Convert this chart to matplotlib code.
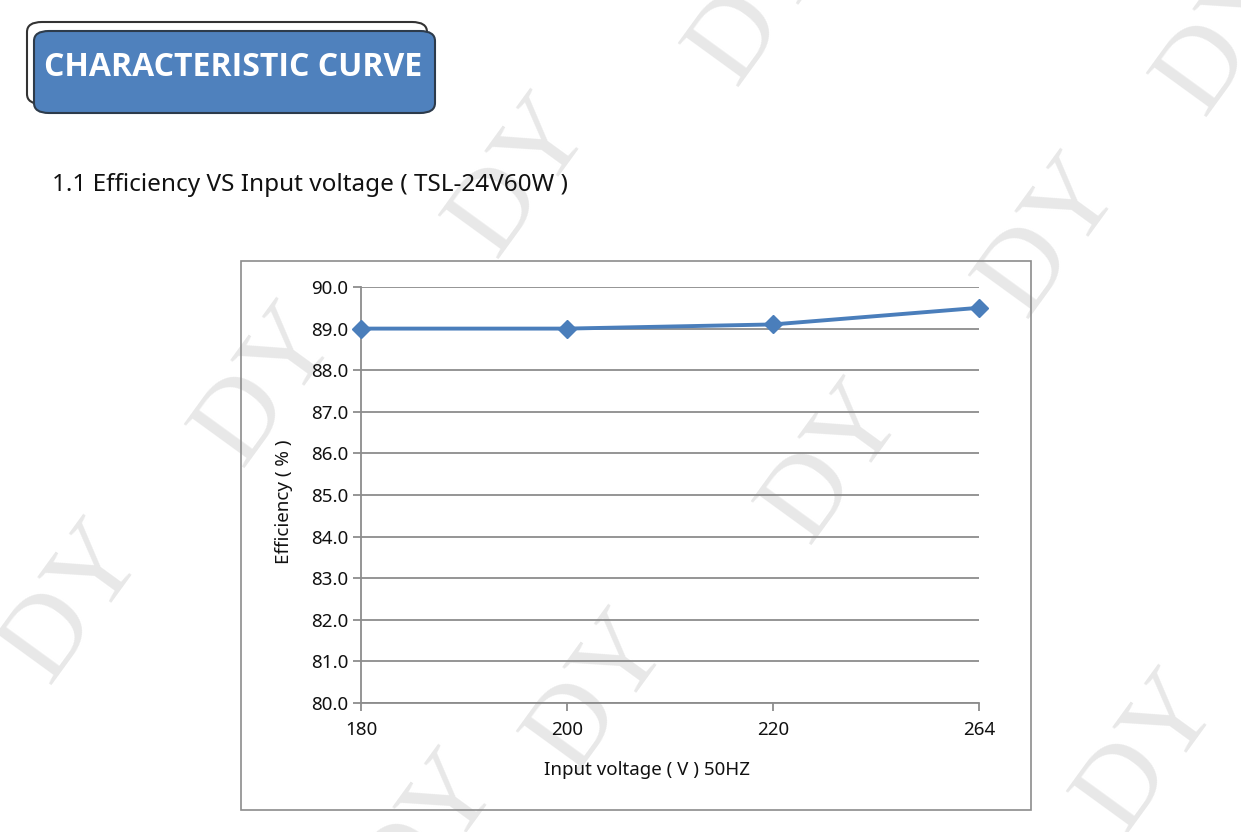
import matplotlib
matplotlib.use("Agg")
import matplotlib.pyplot as plt
from matplotlib.patches import FancyBboxPatch, Rectangle

# data
voltages = ["180", "200", "220", "264"]
efficiency = [89.0, 89.0, 89.1, 89.5]
y_ticks = [80.0, 81.0, 82.0, 83.0, 84.0, 85.0, 86.0, 87.0, 88.0, 89.0, 90.0]

W, H = 1241, 832
BLUE = "#4a7ebb"
GRID = "#8c8c8c"

plt.rcParams["font.family"] = ["Noto Sans", "DejaVu Sans"]

fig = plt.figure(figsize=(W / 100, H / 100), dpi=100)
fig.patch.set_facecolor("white")


def px(x, y):
    """pixel coords (origin top-left) -> figure fraction"""
    return x / W, 1 - y / H


# "DY" watermarks, behind everything (partly cut at the page edges, as in the source)
marks = [(522, 176), (1052, 236), (1230, 34), (762, 4), (268, 385), (835, 462),
         (75, 602), (600, 692), (1150, 752), (430, 832)]
for mx, my in marks:
    fx, fy = px(mx, my)
    fig.text(fx, fy, "DY", family="Liberation Serif", fontsize=82,
             color="#e8e8e8", rotation=54, ha="center", va="center", zorder=-5)

# title banner: offset back box + blue front box
back = FancyBboxPatch(px(27, 104), 400 / W, 82 / H,
                      boxstyle="round,pad=0,rounding_size=0.012",
                      transform=fig.transFigure, facecolor="white",
                      edgecolor="#333333", linewidth=1.5, zorder=1)
front = FancyBboxPatch(px(34, 113), 401 / W, 82 / H,
                       boxstyle="round,pad=0,rounding_size=0.012",
                       transform=fig.transFigure, facecolor="#4f81bd",
                       edgecolor="#2d3b4b", linewidth=1.5, zorder=2)
fig.patches.extend([back, front])
fig.text(*px(233, 68), "CHARACTERISTIC CURVE", color="white", fontsize=23,
         fontweight="bold", family="Open Sans", ha="center", va="center",
         zorder=3)

fig.text(*px(52, 185), "1.1 Efficiency VS Input voltage ( TSL-24V60W )",
         fontsize=17.5, color="#111111", ha="left", va="center")

# outer chart frame
frame = Rectangle(px(241, 810), 790 / W, 549 / H, transform=fig.transFigure,
                  facecolor="none", edgecolor=GRID, linewidth=1.2, zorder=1)
fig.patches.append(frame)

# plot area
l, b = px(361, 703)
r, t = px(979, 287)
ax = fig.add_axes([l, b, r - l, t - b])
ax.patch.set_alpha(0)

xpos = list(range(len(voltages)))
ax.plot(xpos, efficiency, color=BLUE, linewidth=2.8, marker="D",
        markersize=9, clip_on=False, zorder=5)

ax.set_xlim(0, len(voltages) - 1)
ax.set_ylim(y_ticks[0], y_ticks[-1])
ax.set_xticks(xpos)
ax.set_xticklabels(voltages)
ax.set_yticks(y_ticks)
ax.set_yticklabels([f"{v:.1f}" for v in y_ticks])

ax.grid(axis="y", color=GRID, linewidth=1.3)
ax.set_axisbelow(True)
for side in ["top", "right"]:
    ax.spines[side].set_visible(False)
for side in ["left", "bottom"]:
    ax.spines[side].set_color(GRID)
    ax.spines[side].set_linewidth(1.3)

ax.tick_params(axis="both", colors=GRID, labelcolor="#111111",
               labelsize=13.5, length=6, width=1.3)
ax.tick_params(axis="y", pad=3)
ax.tick_params(axis="x", pad=7)

ax.set_xlabel("Input voltage ( V ) 50HZ", fontsize=13.5, color="#111111")
ax.set_ylabel("Efficiency ( % )", fontsize=13.5, color="#111111")
# labels in the source sit a bit off-centre
ax.xaxis.set_label_coords(0.463, -0.14)
ax.yaxis.set_label_coords(-0.11, 0.483)

fig.savefig("out.png", dpi=100, facecolor="white")
